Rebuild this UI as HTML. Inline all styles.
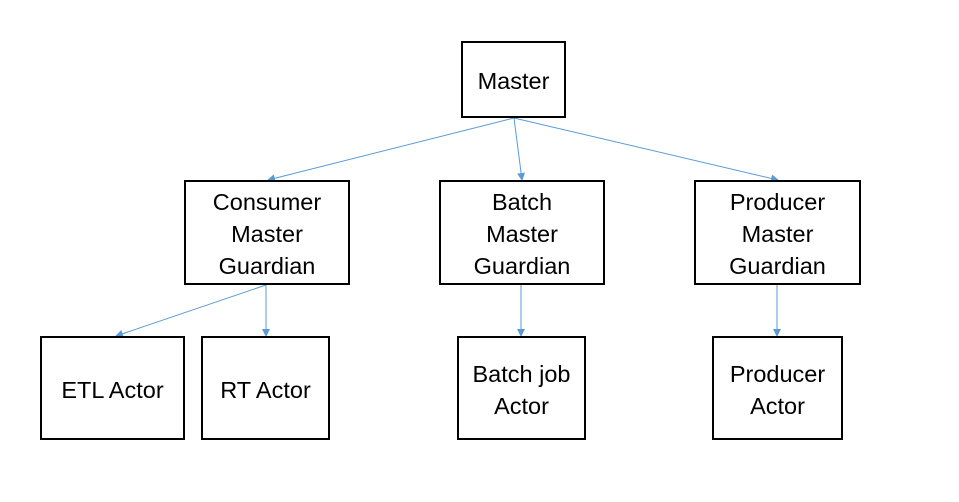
<!DOCTYPE html>
<html><head><style>
body{margin:0;background:#fff;width:959px;height:502px;overflow:hidden;font-family:"Liberation Sans",sans-serif}
.b{position:absolute;border:2px solid #000;box-sizing:border-box;display:flex;align-items:center;justify-content:center;text-align:center;font-size:23.5px;line-height:32px;color:#000;background:#fff;padding-top:3px}
svg{position:absolute;left:0;top:0}
</style></head><body>
<svg width="959" height="502">
<defs><marker id="a" markerWidth="8" markerHeight="8" refX="7" refY="4" orient="auto" markerUnits="userSpaceOnUse"><path d="M0,0 L8,4 L0,8 z" fill="#5b9bd5"/></marker></defs>
<g stroke="#5b9bd5" stroke-width="1" fill="none" marker-end="url(#a)">
<line x1="514" y1="118" x2="268" y2="180"/>
<line x1="514" y1="118" x2="522" y2="180"/>
<line x1="514" y1="118" x2="778" y2="180"/>
<line x1="266" y1="285" x2="116" y2="336"/>
<line x1="266" y1="285" x2="266" y2="336"/>
<line x1="521" y1="285" x2="521" y2="336"/>
<line x1="777" y1="285" x2="777" y2="336"/>
</g></svg>
<div class="b" style="left:461px;top:41px;width:105px;height:77px">Master</div>
<div class="b" style="left:184px;top:180px;width:166px;height:105px">Consumer<br>Master<br>Guardian</div>
<div class="b" style="left:439px;top:180px;width:166px;height:105px">Batch<br>Master<br>Guardian</div>
<div class="b" style="left:694px;top:180px;width:167px;height:105px">Producer<br>Master<br>Guardian</div>
<div class="b" style="left:40px;top:336px;width:145px;height:104px">ETL Actor</div>
<div class="b" style="left:201px;top:336px;width:129px;height:104px">RT Actor</div>
<div class="b" style="left:457px;top:336px;width:129px;height:104px">Batch job<br>Actor</div>
<div class="b" style="left:712px;top:336px;width:131px;height:104px">Producer<br>Actor</div>
</body></html>
